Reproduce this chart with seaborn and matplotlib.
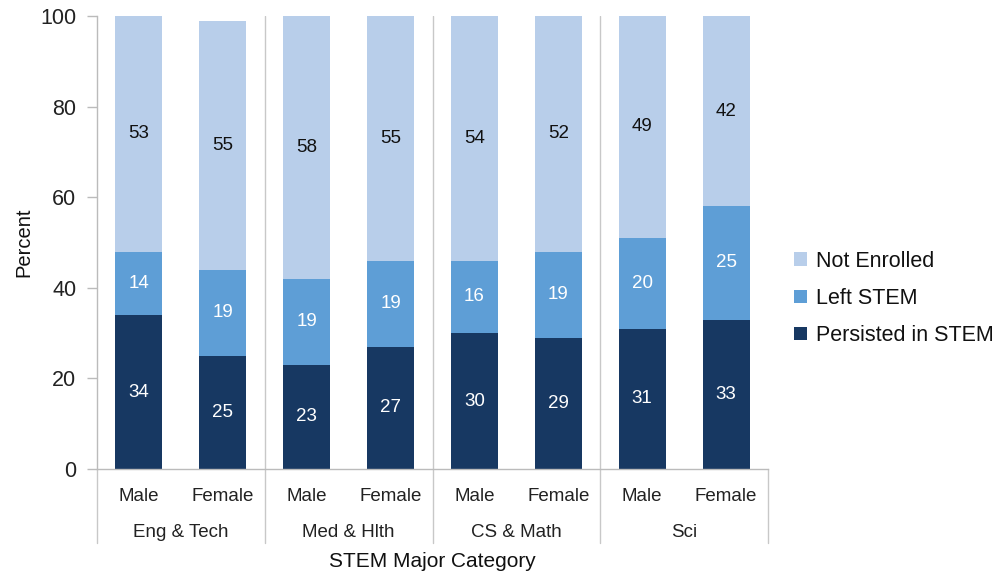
import matplotlib
matplotlib.use("Agg")
import matplotlib.pyplot as plt
import matplotlib.transforms as mtransforms
from matplotlib.lines import Line2D
from matplotlib.patches import Patch
import numpy as np
import pandas as pd
import seaborn as sns

# Data
categories = ["Eng & Tech", "Med & Hlth", "CS & Math", "Sci"]
genders = ["Male", "Female"]
persisted = [34, 25, 23, 27, 30, 29, 31, 33]
left_stem = [14, 19, 19, 19, 16, 19, 20, 25]
not_enrolled = [53, 55, 58, 55, 54, 52, 49, 42]
series_names = ["Persisted in STEM", "Left STEM", "Not Enrolled"]
colors = {"Persisted in STEM": "#173862", "Left STEM": "#5E9ED6", "Not Enrolled": "#B8CEEA"}
y_ticks = [0, 20, 40, 60, 80, 100]

sns.set_theme(style="white")
plt.rcParams["font.family"] = ["Liberation Sans", "DejaVu Sans"]

keys = [f"{c}|{g}" for c in categories for g in genders]
df = pd.DataFrame({
    "key": keys,
    "Persisted in STEM": persisted,
    "Left STEM": left_stem,
    "Not Enrolled": not_enrolled,
})
df["c1"] = df["Persisted in STEM"]
df["c2"] = df["c1"] + df["Left STEM"]
df["c3"] = df["c2"] + df["Not Enrolled"]

fig = plt.figure(figsize=(9.93, 5.75), dpi=100)
ax = fig.add_axes([0.0977, 0.1843, 0.6757, 0.7879])

# stacked bars: draw cumulative totals from tallest to shortest
for col, name in [("c3", "Not Enrolled"), ("c2", "Left STEM"), ("c1", "Persisted in STEM")]:
    sns.barplot(data=df, x="key", y=col, order=keys, color=colors[name],
                width=0.56, saturation=1, ax=ax, linewidth=0)

n = len(keys)
ax.set_xlim(-0.5, n - 0.5)
ax.set_ylim(0, 100)
ax.set_yticks(y_ticks)
ax.set_yticklabels([str(t) for t in y_ticks], fontsize=15.5, color="#222222")
ax.tick_params(axis="y", length=7, width=1, color="#BBBBBB", direction="out", pad=8, left=True)
ax.set_ylabel("Percent", fontsize=14.5, color="#111111", labelpad=5)

# value labels centred in each segment
x_pos = np.arange(n)
for i in range(n):
    segs = [df["c1"][i] / 2, df["c1"][i] + df["Left STEM"][i] / 2,
            df["c2"][i] + (min(df["c3"][i], 100) - df["c2"][i]) / 2]
    vals = [persisted[i], left_stem[i], not_enrolled[i]]
    tcols = ["white", "white", "#111111"]
    for yy, v, tc in zip(segs, vals, tcols):
        ax.text(x_pos[i], yy, str(v), ha="center", va="center", fontsize=13.5, color=tc)

# spines
for s in ["top", "right"]:
    ax.spines[s].set_visible(False)
for s in ["left", "bottom"]:
    ax.spines[s].set_color("#BBBBBB")
    ax.spines[s].set_linewidth(1)

# two-level x axis
ax.set_xticks(x_pos)
ax.set_xticklabels([k.split("|")[1] for k in keys], fontsize=13.5, color="#222222")
ax.tick_params(axis="x", length=0, pad=14)
ax.set_xlabel("")

trans = mtransforms.blended_transform_factory(ax.transData, ax.transAxes)
for j, cat in enumerate(categories):
    ax.text(2 * j + 0.5, -0.14, cat, transform=trans, ha="center", va="center",
            fontsize=13.5, color="#222222")

bounds = [-0.5 + 2 * j for j in range(len(categories) + 1)]
for b in bounds:
    ax.add_line(Line2D([b, b], [0, -0.163], transform=trans, color="#C8C8C8",
                       linewidth=1, clip_on=False))
for b in bounds[1:-1]:
    ax.axvline(b, color="#C8C8C8", linewidth=1, zorder=0)

fig.text(ax.get_position().x0 + ax.get_position().width / 2, 0.024, "STEM Major Category",
         ha="center", va="center", fontsize=15, color="#111111")

# legend
handles = [Patch(facecolor=colors[nm], edgecolor="none") for nm in reversed(series_names)]
leg = fig.legend(handles, list(reversed(series_names)), loc="center left",
                 bbox_to_anchor=(0.800, 0.481), frameon=False, fontsize=15.5,
                 handlelength=0.6, handleheight=0.6, handletextpad=0.4, labelspacing=0.75,
                 borderaxespad=0, borderpad=0)
for t in leg.get_texts():
    t.set_color("#111111")

fig.savefig("out.png", dpi=100)
